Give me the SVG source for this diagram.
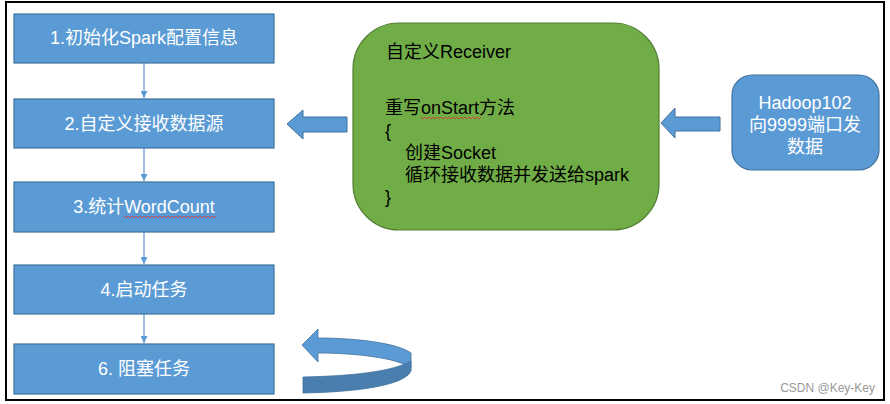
<svg xmlns="http://www.w3.org/2000/svg" width="890" height="404" viewBox="0 0 890 404">
<defs>
<style>
.step{fill:#5B9BD5;stroke:#41719C;stroke-width:1.2}
.wt{fill:#fff;font-family:"Liberation Sans","Noto Sans CJK SC",sans-serif;font-size:18px;text-anchor:middle}
.bt{fill:#000;font-family:"Liberation Sans","Noto Sans CJK SC",sans-serif;font-size:18px}
.con{stroke:#7FAADB;stroke-width:1.5;fill:none}
.blk{fill:#5B9BD5;stroke:#41719C;stroke-width:1}
.sq{stroke:#E03030;stroke-width:0.8;fill:none}
</style>
<marker id="ah" markerWidth="8" markerHeight="7" refX="7" refY="3.5" orient="auto" markerUnits="userSpaceOnUse">
<path d="M0,0 L7,3.5 L0,7 Z" fill="#5B9BD5"/>
</marker>
</defs>
<rect x="0" y="0" width="890" height="404" fill="#fff"/>
<rect x="6" y="2" width="878" height="398" fill="none" stroke="#000" stroke-width="2"/>

<g id="connectors">
<line class="con" x1="144" y1="63" x2="144" y2="98" marker-end="url(#ah)"/>
<line class="con" x1="144" y1="148" x2="144" y2="181" marker-end="url(#ah)"/>
<line class="con" x1="144" y1="232" x2="144" y2="264" marker-end="url(#ah)"/>
<line class="con" x1="144" y1="314" x2="144" y2="343" marker-end="url(#ah)"/>
<path class="blk" d="M287,124 L303,110 L303,117 L347,117 L347,132 L303,132 L303,139 Z"/>
<path class="blk" d="M661,123 L675,108 L675,117 L720,117 L720,131 L675,131 L675,138 Z"/>
<g id="loop-arrow">
<path d="M302,345 L318,329 L318,338 C355,338 398,343 411,353 L411,368 C398,358 355,353 318,353 L318,362 Z" fill="#5B9BD5" stroke="#41719C" stroke-width="0.8"/>
<path d="M303,377 C350,376 392,372 411,361 L411,371 C404,386 355,392 303,393 Z" fill="#4A7EAE" stroke="#41719C" stroke-width="0.8"/>
</g>
</g>

<g id="step1">
<rect class="step" x="14" y="14" width="260" height="49"/>
<text class="wt" x="144" y="44">1.初始化Spark配置信息</text>
</g>
<g id="step2">
<rect class="step" x="14" y="99" width="260" height="49"/>
<text class="wt" x="144" y="130">2.自定义接收数据源</text>
</g>
<g id="step3">
<rect class="step" x="14" y="182" width="260" height="50"/>
<text class="wt" x="144" y="213">3.统计WordCount</text>
<path class="sq" d="M124,216 l2,2 l2,-2 l2,2 l2,-2 l2,2 l2,-2 l2,2 l2,-2 l2,2 l2,-2 l2,2 l2,-2 l2,2 l2,-2 l2,2 l2,-2 l2,2 l2,-2 l2,2 l2,-2 l2,2 l2,-2 l2,2 l2,-2 l2,2 l2,-2 l2,2 l2,-2 l2,2 l2,-2 l2,2 l2,-2 l2,2 l2,-2 l2,2 l2,-2 l2,2 l2,-2 l2,2 l2,-2 l2,2 l2,-2 l2,2 l2,-2 l2,2 l2,-2"/>
</g>
<g id="step4">
<rect class="step" x="14" y="265" width="260" height="49"/>
<text class="wt" x="144" y="296">4.启动任务</text>
</g>
<g id="step6">
<rect class="step" x="14" y="344" width="260" height="50"/>
<text class="wt" x="144" y="375">6. 阻塞任务</text>
</g>

<g id="receiver">
<rect x="353" y="23" width="306" height="207" rx="46" ry="46" fill="#70AD47" stroke="#507E32" stroke-width="1.2"/>
<text class="bt" x="386" y="58">自定义Receiver</text>
<text class="bt" x="385" y="114">重写onStart方法</text>
<path class="sq" d="M421,117 l2,2 l2,-2 l2,2 l2,-2 l2,2 l2,-2 l2,2 l2,-2 l2,2 l2,-2 l2,2 l2,-2 l2,2 l2,-2 l2,2 l2,-2 l2,2 l2,-2 l2,2 l2,-2 l2,2 l2,-2 l2,2 l2,-2 l2,2 l2,-2 l2,2 l2,-2 l2,2 l2,-2"/>
<text class="bt" x="385" y="137">{</text>
<text class="bt" x="405" y="159">创建Socket</text>
<text class="bt" x="405" y="181">循环接收数据并发送给spark</text>
<text class="bt" x="385" y="203">}</text>
</g>

<g id="hadoop">
<rect x="732" y="75" width="147" height="95" rx="20" ry="20" fill="#5B9BD5" stroke="#41719C" stroke-width="1.2"/>
<text class="wt" x="805" y="109">Hadoop102</text>
<text class="wt" x="805" y="131">向9999端口发</text>
<text class="wt" x="805" y="153">数据</text>
</g>

<text x="875" y="392" fill="#999" font-family="Liberation Sans, sans-serif" font-size="12" text-anchor="end">CSDN @Key-Key</text>
</svg>
